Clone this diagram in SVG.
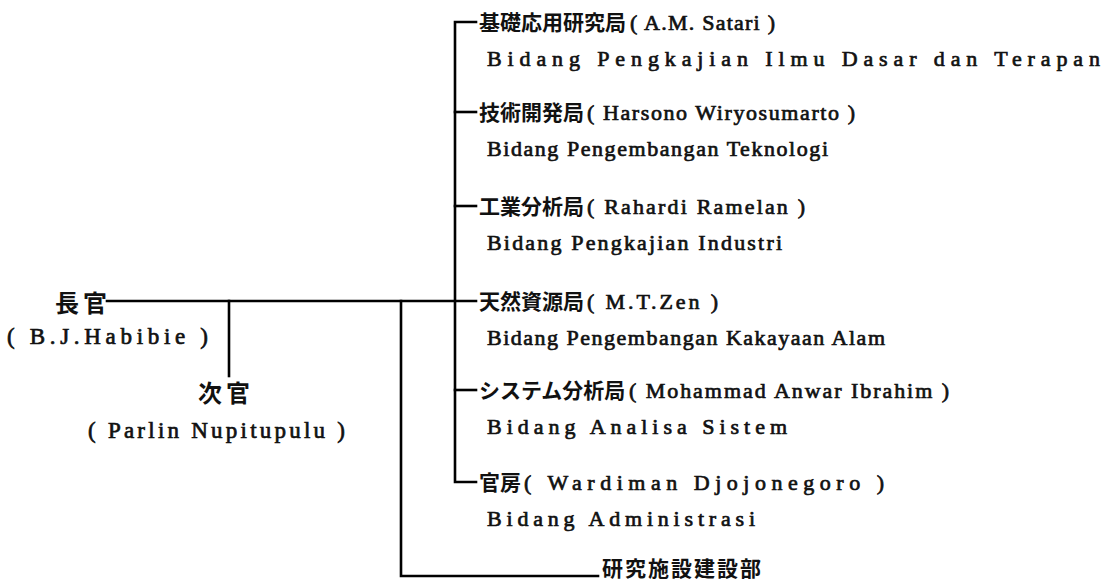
<svg xmlns="http://www.w3.org/2000/svg" width="1106" height="584" viewBox="0 0 1106 584">
<style>
.ln{stroke:#000;stroke-width:2.6;fill:none;stroke-linecap:square}
.cj{font-family:"Noto Sans CJK JP","Noto Sans CJK SC",sans-serif;font-size:21px;font-weight:700;fill:#111}
.cjb{font-family:"Noto Sans CJK JP","Noto Sans CJK SC",sans-serif;font-size:24px;font-weight:700;fill:#111;letter-spacing:4px}
.lt{font-family:"Liberation Serif",serif;font-size:22px;fill:#111;stroke:#111;stroke-width:0.7}
.lb{font-family:"Liberation Serif",serif;font-size:23px;fill:#111;stroke:#111;stroke-width:0.7}
</style>
<rect width="1106" height="584" fill="#fff"/>
<g id="connectors">
<path class="ln" d="M107,301 H476"/>
<path class="ln" d="M229,301 V376"/>
<path class="ln" d="M401,301 V576 H598"/>
<path class="ln" d="M476,22 H455 V482 H476"/>
<path class="ln" d="M455,112 H476"/>
<path class="ln" d="M455,206 H476"/>
<path class="ln" d="M455,390 H476"/>
</g>
<g id="chokan">
<text class="cjb" x="55" y="312">長官</text>
<text class="lb" x="7" y="344" textLength="201" lengthAdjust="spacing">( B.J.Habibie )</text>
</g>
<g id="jikan">
<text class="cjb" x="198" y="402">次官</text>
<text class="lb" x="88" y="438" textLength="257" lengthAdjust="spacing">( Parlin Nupitupulu )</text>
</g>
<g id="kiso">
<text class="cj" x="479" y="30">基礎応用研究局</text>
<text class="lt" x="630" y="30" textLength="145" lengthAdjust="spacing">( A.M. Satari )</text>
<text class="lt" x="487" y="66" textLength="613" lengthAdjust="spacing">Bidang Pengkajian Ilmu Dasar dan Terapan</text>
</g>
<g id="gijutsu">
<text class="cj" x="479" y="120">技術開発局</text>
<text class="lt" x="587" y="120" textLength="268" lengthAdjust="spacing">( Harsono Wiryosumarto )</text>
<text class="lt" x="487" y="156" textLength="341" lengthAdjust="spacing">Bidang Pengembangan Teknologi</text>
</g>
<g id="kogyo">
<text class="cj" x="479" y="214">工業分析局</text>
<text class="lt" x="587" y="214" textLength="218" lengthAdjust="spacing">( Rahardi Ramelan )</text>
<text class="lt" x="487" y="250" textLength="295" lengthAdjust="spacing">Bidang Pengkajian Industri</text>
</g>
<g id="tennen">
<text class="cj" x="479" y="309">天然資源局</text>
<text class="lt" x="587" y="309" textLength="131" lengthAdjust="spacing">( M.T.Zen )</text>
<text class="lt" x="487" y="345" textLength="398" lengthAdjust="spacing">Bidang Pengembangan Kakayaan Alam</text>
</g>
<g id="system">
<text class="cj" x="479" y="398">システム分析局</text>
<text class="lt" x="629" y="398" textLength="320" lengthAdjust="spacing">( Mohammad Anwar Ibrahim )</text>
<text class="lt" x="487" y="434" textLength="300" lengthAdjust="spacing">Bidang Analisa Sistem</text>
</g>
<g id="kanbo">
<text class="cj" x="479" y="490">官房</text>
<text class="lt" x="524" y="490" textLength="360" lengthAdjust="spacing">( Wardiman Djojonegoro )</text>
<text class="lt" x="487" y="526" textLength="268" lengthAdjust="spacing">Bidang Administrasi</text>
</g>
<g id="kenkyu">
<text class="cj" x="602" y="576" style="letter-spacing:2px">研究施設建設部</text>
</g>
</svg>
